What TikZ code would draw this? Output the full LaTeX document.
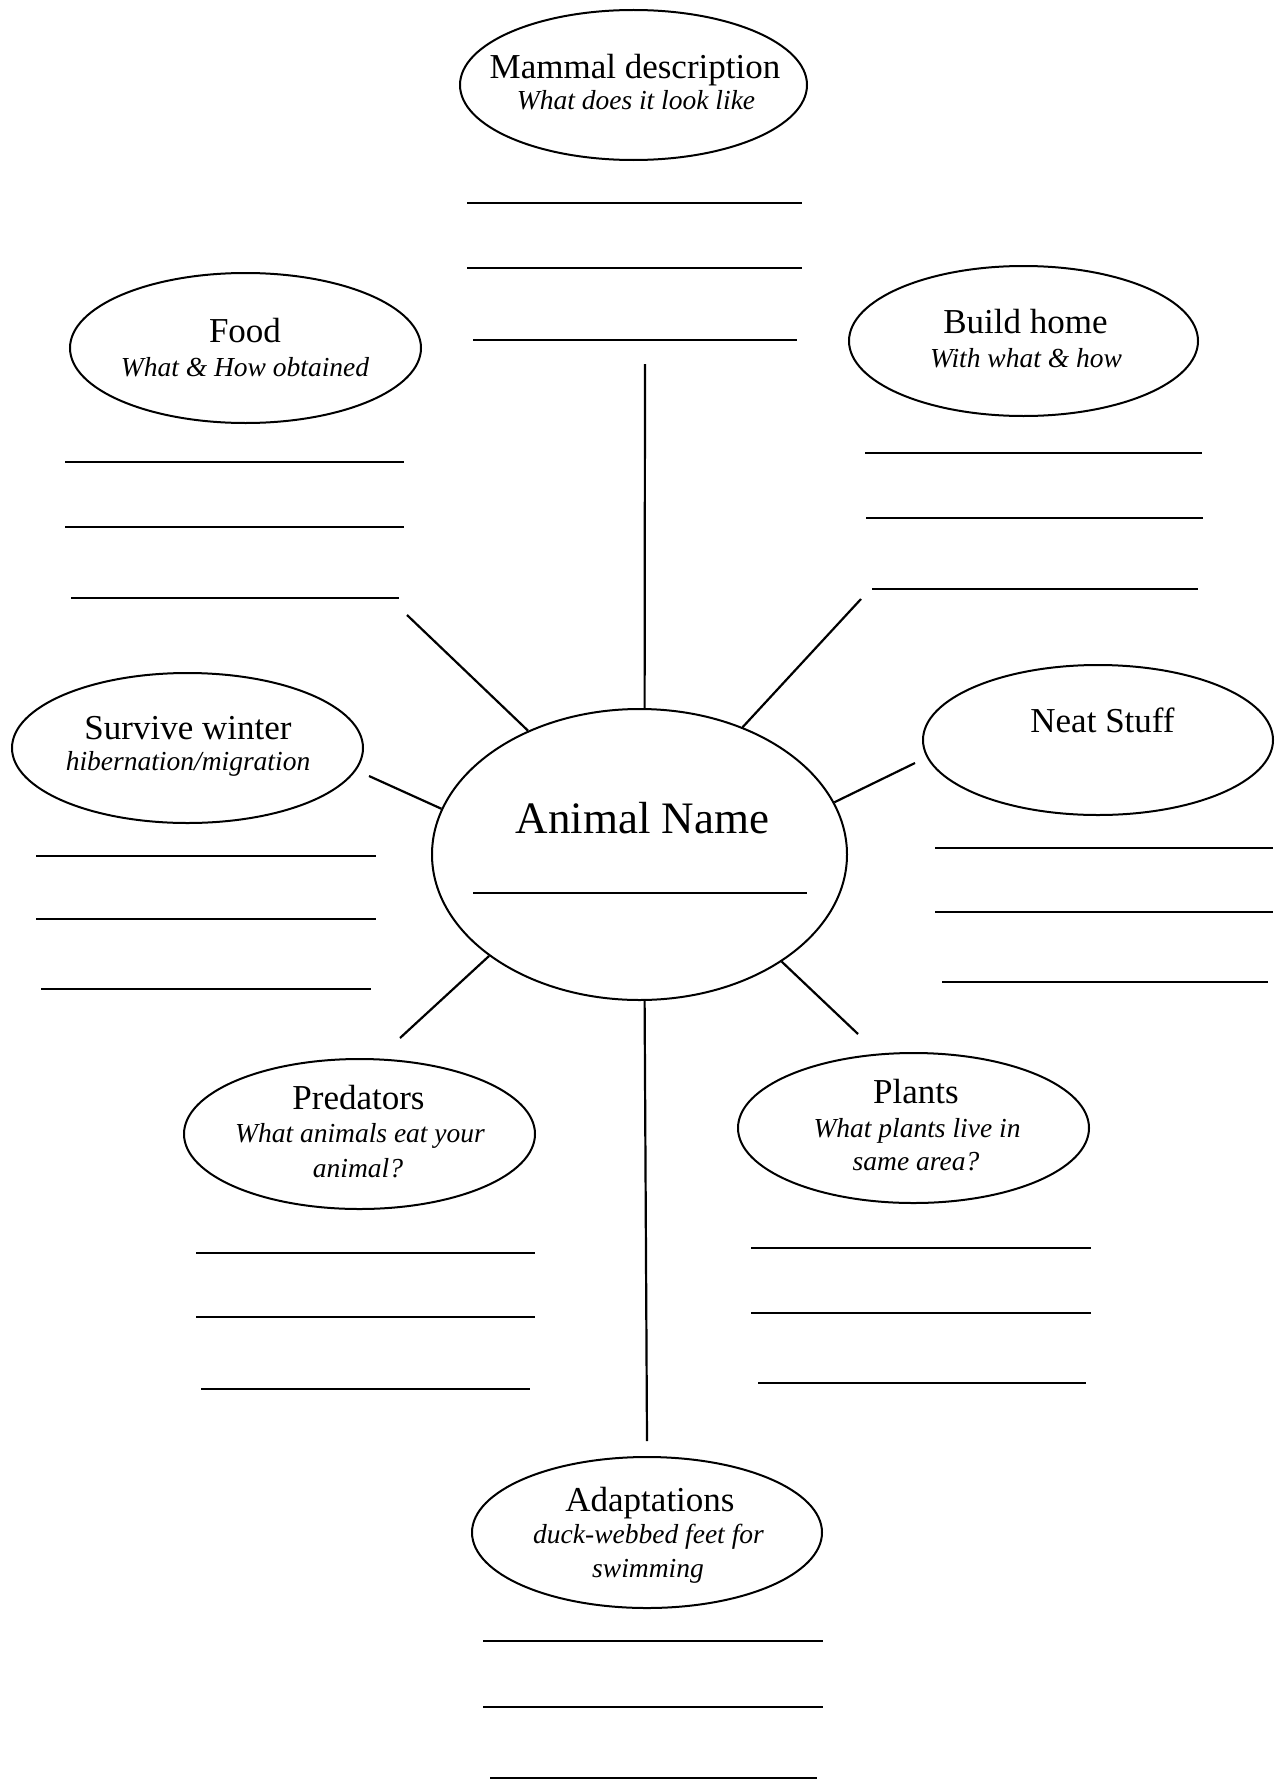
\documentclass[tikz,border=0pt]{standalone}
\usepackage{fontspec}
\setmainfont{Liberation Serif}
\usetikzlibrary{shapes.geometric}
\begin{document}
\begin{tikzpicture}[x=1pt,y=-1pt,
  bubble/.style 2 args={draw, ellipse, line width=2pt, inner sep=0pt, minimum width=#1, minimum height=#2},
  ttl/.style={anchor=base, inner sep=0pt, font=\fontsize{35}{40}\selectfont},
  bigttl/.style={anchor=base, inner sep=0pt, font=\fontsize{45}{50}\selectfont},
  sub/.style={anchor=base, inner sep=0pt, font=\fontsize{27.5}{33}\selectfont\itshape},
  rule/.style={line width=2.4pt},
  spoke/.style={line width=2.2pt}]
\useasboundingbox[fill=white] (0,0) rectangle (1280,1782);

% ---------- central ----------
\node[bubble={415}{291}] (animal) at (639.5,854.5) {};
\node[bigttl] (animalT) at (642.5,833) {Animal Name};
\draw[rule] (473,893) -- (807,893);

% ---------- Mammal description ----------
\node[bubble={347}{150}] (mammal) at (633.5,85) {};
\node[ttl] (mammalT) at (635,79) {Mammal description};
\node[sub] (mammalS) at (636,110) {What does it look like};
\draw[rule] (467,203) -- (802,203);
\draw[rule] (467,268) -- (802,268);
\draw[rule] (473,340) -- (797,340);

% ---------- Food ----------
\node[bubble={351}{150}] (food) at (245.5,348) {};
\node[ttl] (foodT) at (245,342) {Food};
\node[sub] (foodS) at (245,376) {What \& How obtained};
\draw[rule] (65,462) -- (404,462);
\draw[rule] (65,527) -- (404,527);
\draw[rule] (71,598) -- (399,598);

% ---------- Build home ----------
\node[bubble={349}{150}] (build) at (1023.5,341) {};
\node[ttl] (buildT) at (1025.5,333) {Build home};
\node[sub] (buildS) at (1026,367) {With what \& how};
\draw[rule] (865,453) -- (1202,453);
\draw[rule] (866,518) -- (1203,518);
\draw[rule] (872,589) -- (1198,589);

% ---------- Survive winter ----------
\node[bubble={351}{150}] (survive) at (187.5,748) {};
\node[ttl] (surviveT) at (188,739) {Survive winter};
\node[sub] (surviveS) at (188,770) {hibernation/migration};
\draw[rule] (36,856) -- (376,856);
\draw[rule] (36,919) -- (376,919);
\draw[rule] (41,989) -- (371,989);

% ---------- Neat Stuff ----------
\node[bubble={350}{150}] (neat) at (1098,740) {};
\node[ttl] (neatT) at (1102.5,732) {Neat Stuff};
\draw[rule] (935,848) -- (1273,848);
\draw[rule] (935,912) -- (1273,912);
\draw[rule] (942,982) -- (1268,982);

% ---------- Predators ----------
\node[bubble={351}{150}] (pred) at (359.5,1134) {};
\node[ttl] (predT) at (358.5,1109) {Predators};
\node[sub] (predS1) at (360,1142) {What animals eat your};
\node[sub] (predS2) at (358,1177) {animal?};
\draw[rule] (196,1253) -- (535,1253);
\draw[rule] (196,1317) -- (535,1317);
\draw[rule] (201,1389) -- (530,1389);

% ---------- Plants ----------
\node[bubble={351}{150}] (plants) at (913.5,1128) {};
\node[ttl] (plantsT) at (916,1103) {Plants};
\node[sub] (plantsS1) at (917,1137) {What plants live in};
\node[sub] (plantsS2) at (916,1170) {same area?};
\draw[rule] (751,1248) -- (1091,1248);
\draw[rule] (751,1313) -- (1091,1313);
\draw[rule] (758,1383) -- (1086,1383);

% ---------- Adaptations ----------
\node[bubble={350}{151}] (adapt) at (647,1532.5) {};
\node[ttl] (adaptT) at (650,1511) {Adaptations};
\node[sub] (adaptS1) at (648.5,1543) {duck-webbed feet for};
\node[sub] (adaptS2) at (648,1577) {swimming};
\draw[rule] (483,1641) -- (823,1641);
\draw[rule] (483,1707) -- (823,1707);
\draw[rule] (490,1778) -- (817,1778);

% ---------- spokes ----------
\coordinate (cTop) at (645,364);
\coordinate (cBot) at (647,1441);
\coordinate (cTL) at (407,615);
\coordinate (cTR) at (861,599);
\coordinate (cL) at (369,776);
\coordinate (cR) at (915,763);
\coordinate (cBL) at (400,1038);
\coordinate (cBR) at (858,1034);
\draw[spoke] (animal.88) -- (cTop);
\draw[spoke] (animal.272.9) -- (cBot);
\draw[spoke] (animal.132.9) -- (cTL);
\draw[spoke] (animal.51.4) -- (cTR);
\draw[spoke] (animal.167.8) -- (cL);
\draw[spoke] (animal.15.6) -- (cR);
\draw[spoke] (animal.214.1) -- (cBL);
\draw[spoke] (animal.323.4) -- (cBR);
\end{tikzpicture}
\end{document}
